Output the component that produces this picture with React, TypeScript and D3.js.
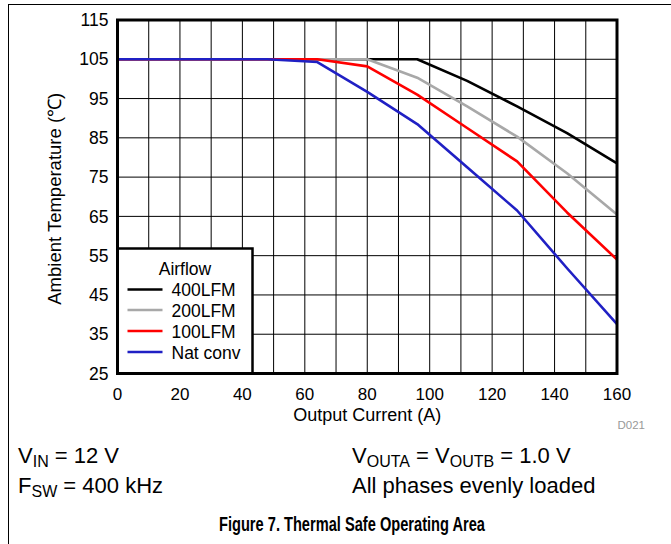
import React from "react";
import * as d3 from "d3";

const W = 671;
const H = 544;

const xTicks = [0, 20, 40, 60, 80, 100, 120, 140, 160];
const yTicks = [25, 35, 45, 55, 65, 75, 85, 95, 105, 115];

// Output current (A) vs ambient temperature (°C)
const lfm400X = [0, 96, 112, 128, 144, 160];
const lfm400Y = [105, 105, 99.5, 93, 86.2, 78.5];
const lfm200X = [0, 80, 96, 112, 128, 144, 160];
const lfm200Y = [105, 105, 100.3, 93, 85.3, 76, 65.5];
const lfm100X = [0, 64, 80, 96, 112, 128, 144, 160];
const lfm100Y = [105, 105, 103.2, 96, 87.5, 79, 66, 54];
const natX = [0, 48, 64, 80, 96, 112, 128, 144, 160];
const natY = [105, 105, 104.3, 96.7, 88.5, 77.5, 66.5, 51.8, 37.6];

const seriesNames = ["400LFM", "200LFM", "100LFM", "Nat conv"];
const seriesColors = ["#000000", "#a8a8a8", "#ff0000", "#2020c4"];

const FONT = "'Liberation Sans', Arial, Helvetica, sans-serif";

export default function App() {
  const left = 117.5, right = 617, top = 20, bottom = 373.5;
  const x = d3.scaleLinear().domain([0, 160]).range([left, right]);
  const y = d3.scaleLinear().domain([25, 115]).range([bottom, top]);
  const line = d3
    .line<[number, number]>()
    .x((d) => x(d[0]))
    .y((d) => y(d[1]));

  const series = [
    { xs: lfm400X, ys: lfm400Y },
    { xs: lfm200X, ys: lfm200Y },
    { xs: lfm100X, ys: lfm100Y },
    { xs: natX, ys: natY },
  ];
  const gridX = d3.range(0, 161, 10);

  const legL = left, legR = 252.5, legT = 248.5, legB = bottom;
  const legRowY = [289.5, 310, 331, 352];

  return (
    <svg
      width={W}
      height={H}
      style={{ position: "absolute", left: 0, top: 0, background: "#fff" }}
      fontFamily={FONT}
    >
      <rect x={0} y={0} width={W} height={H} fill="#fff" />
      {/* outer frame */}
      <line x1={8} x2={W} y1={4.5} y2={4.5} stroke="#000" strokeWidth={1} />
      <line x1={8.5} x2={8.5} y1={4} y2={H} stroke="#000" strokeWidth={1} />

      {/* grid */}
      {gridX.map((v) => (
        <line key={"gx" + v} x1={x(v)} x2={x(v)} y1={top} y2={bottom} stroke="#000" strokeWidth={1} />
      ))}
      {yTicks.map((v) => (
        <line key={"gy" + v} x1={left} x2={right} y1={y(v)} y2={y(v)} stroke="#000" strokeWidth={1} />
      ))}

      {/* series */}
      {series.map((s, i) => (
        <path
          key={"s" + i}
          d={line(s.xs.map((v, j) => [v, s.ys[j]] as [number, number])) || ""}
          fill="none"
          stroke={seriesColors[i]}
          strokeWidth={2.6}
          strokeLinejoin="round"
        />
      ))}

      {/* legend */}
      <rect x={legL} y={legT} width={legR - legL} height={legB - legT} fill="#fff" stroke="#000" strokeWidth={2.5} />
      <text x={185} y={275} fontSize={17.5} textAnchor="middle">Airflow</text>
      {seriesNames.map((n, i) => (
        <g key={"l" + i}>
          <line x1={127.5} x2={162.5} y1={legRowY[i]} y2={legRowY[i]} stroke={seriesColors[i]} strokeWidth={2.6} />
          <text x={171.5} y={legRowY[i] + 6.5} fontSize={17.5}>{n}</text>
        </g>
      ))}

      {/* plot border */}
      <rect x={left} y={top} width={right - left} height={bottom - top} fill="none" stroke="#000" strokeWidth={3} />

      {/* ticks */}
      {yTicks.map((v) => (
        <text key={"yt" + v} x={108.5} y={y(v)} dy="0.35em" fontSize={17.5} textAnchor="end">{v}</text>
      ))}
      {xTicks.map((v) => (
        <text key={"xt" + v} x={x(v)} y={400} fontSize={17} textAnchor="middle">{v}</text>
      ))}

      {/* axis labels */}
      <text x={(left + right) / 2} y={421} fontSize={18} textAnchor="middle">Output Current (A)</text>
      <text
        transform={`translate(54,${(top + bottom) / 2 + 2}) rotate(-90)`}
        fontSize={18.5}
        textAnchor="middle"
        dominantBaseline="central"
      >
        Ambient Temperature (℃)
      </text>
      <text x={645} y={429} fontSize={11.5} fill="#999" textAnchor="end">D021</text>

      {/* conditions */}
      <text x={18} y={463} fontSize={22}>
        V<tspan fontSize={16} dy={4}>IN</tspan><tspan dy={-4}> = 12 V</tspan>
      </text>
      <text x={18} y={493} fontSize={22}>
        F<tspan fontSize={16} dy={4}>SW</tspan><tspan dy={-4}> = 400 kHz</tspan>
      </text>
      <text x={352} y={463} fontSize={22}>
        V<tspan fontSize={16} dy={4}>OUTA</tspan><tspan dy={-4}> = V</tspan><tspan fontSize={16} dy={4}>OUTB</tspan><tspan dy={-4}> = 1.0 V</tspan>
      </text>
      <text x={352} y={493} fontSize={22}>All phases evenly loaded</text>

      <text
        x={219}
        y={531}
        fontSize={19.5}
        fontWeight="bold"
        textLength={266}
        lengthAdjust="spacingAndGlyphs"
      >
        Figure 7. Thermal Safe Operating Area
      </text>
    </svg>
  );
}
